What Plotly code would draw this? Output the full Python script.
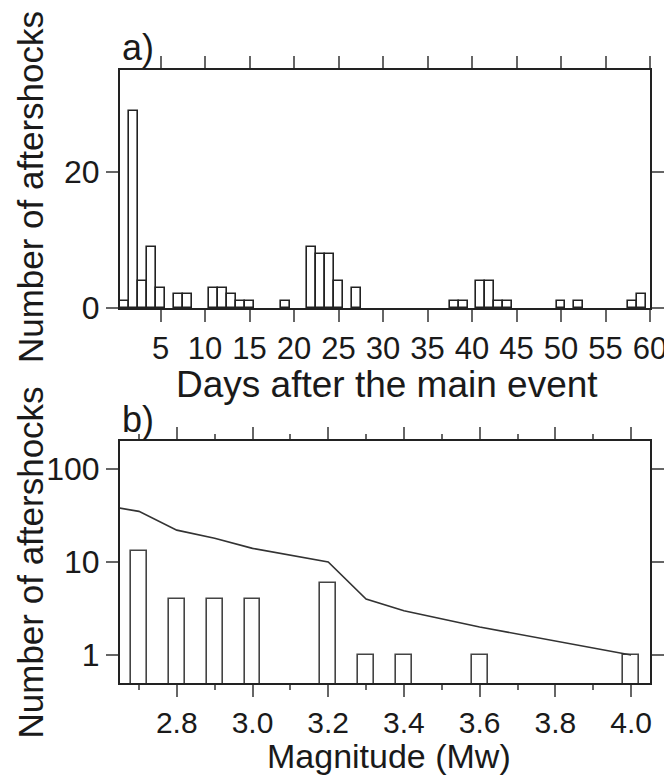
import plotly.graph_objects as go

# Panel a: daily aftershock counts
days = [1, 2, 3, 4, 5, 7, 8, 11, 12, 13, 14, 15, 19, 22, 23, 24, 25, 27,
        38, 39, 41, 42, 43, 44, 50, 52, 58, 59]
day_counts = [1, 29, 4, 9, 3, 2, 2, 3, 3, 2, 1, 1, 1, 9, 8, 8, 4, 3,
              1, 1, 4, 4, 1, 1, 1, 1, 1, 2]
day_ticks = [5, 10, 15, 20, 25, 30, 35, 40, 45, 50, 55, 60]

# Panel b: magnitude distribution
mags = [2.7, 2.8, 2.9, 3.0, 3.2, 3.3, 3.4, 3.6, 4.0]
mag_counts = [13, 4, 4, 4, 6, 1, 1, 1, 1]
# cumulative curve
cum_mags = [2.6, 2.7, 2.8, 2.9, 3.0, 3.2, 3.3, 3.4, 3.6, 4.0]
cum_counts = [41, 35, 22, 18, 14, 10, 4, 3, 2, 1]

FONT = "Liberation Sans, Arial, sans-serif"
TXT = "#1a1a1a"
FRAME = "#222222"
TICK = "#666666"

fig = go.Figure()

fig.add_trace(go.Bar(
    x=days, y=day_counts, width=1.0,
    marker=dict(color="white", line=dict(color="#222222", width=1.6)),
    xaxis="x", yaxis="y", showlegend=False))

fig.add_trace(go.Bar(
    x=mags, y=mag_counts, width=0.042,
    marker=dict(color="white", line=dict(color="#444444", width=1.6)),
    xaxis="x2", yaxis="y2", showlegend=False))

fig.add_trace(go.Scatter(
    x=cum_mags, y=cum_counts, mode="lines",
    line=dict(color="#333333", width=1.6),
    xaxis="x2", yaxis="y2", showlegend=False))

def common(size):
    return dict(showline=True, linewidth=2, linecolor=FRAME, mirror="ticks",
                ticks="outside", ticklen=12, tickwidth=1.5, tickcolor=TICK,
                showgrid=False, zeroline=False, automargin=False,
                tickfont=dict(family=FONT, size=size, color=TXT))

fig.update_layout(
    width=664, height=770,
    margin=dict(l=112, r=22, t=62, b=95, autoexpand=False),
    paper_bgcolor="white", plot_bgcolor="white",
    bargap=0,
    xaxis=dict(domain=[0, 1], range=[0.45, 60], tickvals=day_ticks,
               anchor="y", **common(31)),
    yaxis=dict(domain=[0.6117, 1], range=[0, 35], tickvals=[0, 20],
               anchor="x", **common(32)),
    xaxis2=dict(domain=[0, 1], range=[2.65, 4.05], tick0=2.8, dtick=0.2,
                tickformat=".1f", anchor="y2",
                minor=dict(ticks="outside", ticklen=5, tick0=2.7, dtick=0.1,
                           tickwidth=1.5, tickcolor=TICK, showgrid=False),
                **common(30)),
    yaxis2=dict(domain=[0, 0.3948], type="log", range=[-0.3, 2.3],
                tickvals=[1, 10, 100], ticktext=["1", "10", "100"],
                anchor="x2", **common(32)),
)

ann = [
    dict(text="a)", x=0.0, y=1.0369, xanchor="left", yanchor="middle", size=36),
    dict(text="b)", x=0.0, y=0.430, xanchor="left", yanchor="middle", size=36),
    dict(text="Days after the main event", x=0.5047, y=0.4866,
         xanchor="center", yanchor="middle", size=37),
    dict(text="Magnitude (Mw)", x=0.5075, y=-0.1191,
         xanchor="center", yanchor="middle", size=34),
]
for a in ann:
    fig.add_annotation(text=a["text"], x=a["x"], y=a["y"], xref="paper",
                       yref="paper", xanchor=a["xanchor"], yanchor=a["yanchor"],
                       showarrow=False,
                       font=dict(family=FONT, size=a["size"], color=TXT))

for yc in (0.809, 0.1966):
    fig.add_annotation(text="Number of aftershocks", x=-0.1698, y=yc,
                       xref="paper", yref="paper", xanchor="center",
                       yanchor="middle", textangle=-90, showarrow=False,
                       font=dict(family=FONT, size=35, color=TXT))

fig.write_html("out.html")
